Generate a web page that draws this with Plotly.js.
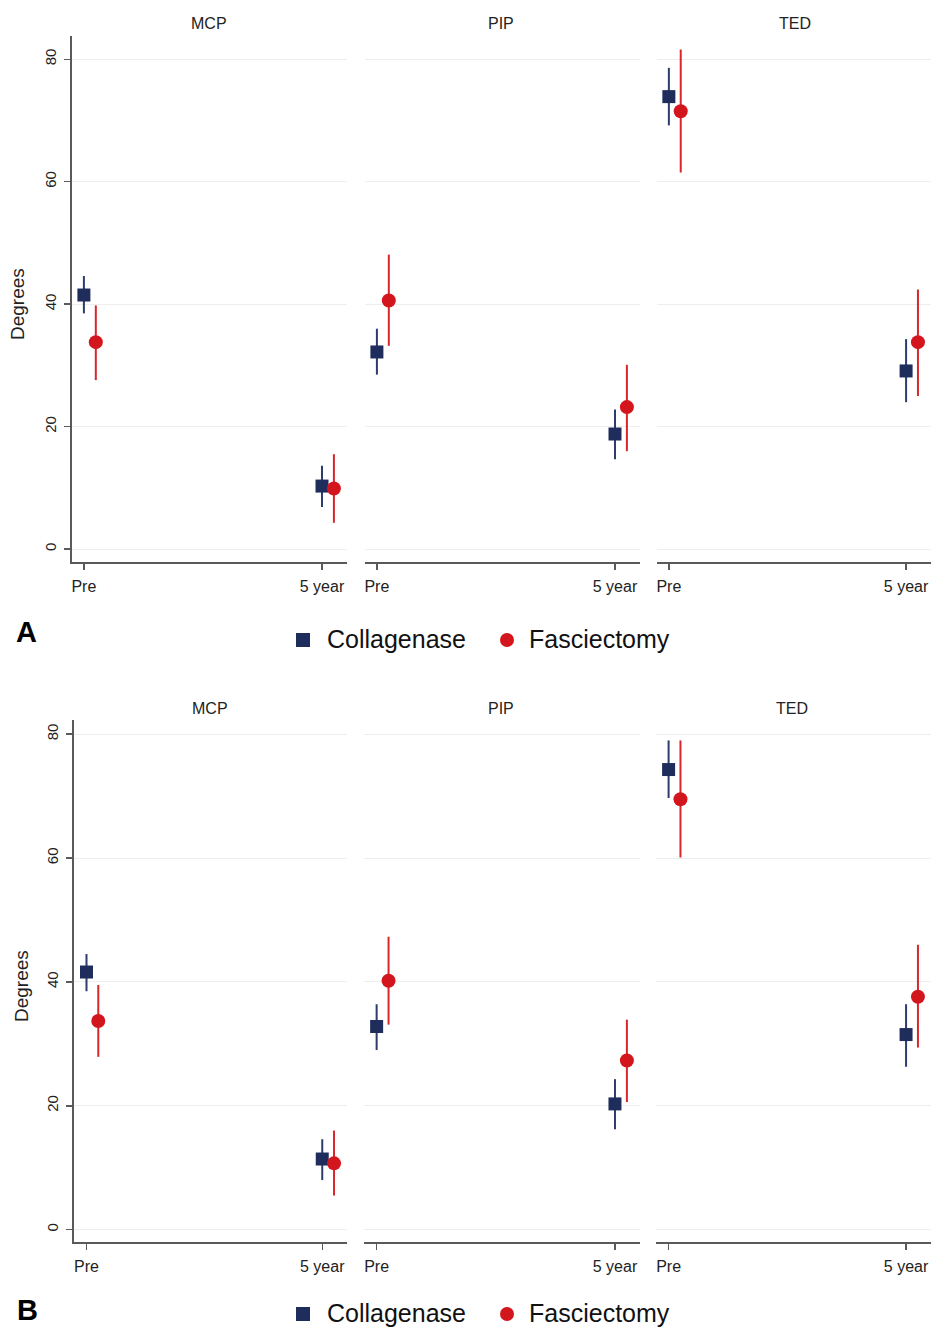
<!DOCTYPE html>
<html>
<head>
<meta charset="utf-8">
<script src="https://cdn.plot.ly/plotly-3.0.1.min.js"></script>
<style>html,body{margin:0;padding:0;background:#fff;}#chart{width:931px;height:1330px;}</style>
</head>
<body>
<div id="chart"></div>
<script>
// ---- Data ----
const panels = ['MCP', 'PIP', 'TED'];
const timeLabels = ['Pre', '5 year'];
const groupNames = ['Collagenase', 'Fasciectomy'];
const yTicks = [0, 20, 40, 60, 80];

// Figure A: [panel][time]
const collA_mean = [[41.5, 10.3], [32.2, 18.8], [73.9, 29.1]];
const collA_lo   = [[38.5, 6.9],  [28.5, 14.7], [69.2, 24.0]];
const collA_hi   = [[44.6, 13.6], [36.0, 22.8], [78.6, 34.3]];
const fascA_mean = [[33.8, 9.9],  [40.6, 23.2], [71.5, 33.8]];
const fascA_lo   = [[27.6, 4.3],  [33.2, 16.0], [61.5, 25.0]];
const fascA_hi   = [[39.8, 15.5], [48.1, 30.1], [81.6, 42.4]];

// Figure B: [panel][time]
const collB_mean = [[41.6, 11.4], [32.8, 20.3], [74.3, 31.5]];
const collB_lo   = [[38.5, 8.0],  [29.0, 16.2], [69.7, 26.3]];
const collB_hi   = [[44.5, 14.6], [36.4, 24.3], [79.0, 36.4]];
const fascB_mean = [[33.7, 10.7], [40.2, 27.3], [69.5, 37.6]];
const fascB_lo   = [[27.9, 5.5],  [33.1, 20.6], [60.1, 29.4]];
const fascB_hi   = [[39.5, 16.0], [47.3, 33.9], [79.0, 46.0]];

// ---- Styling / layout ----
const W = 931, H = 1330;
const FONT = 'Liberation Sans, Arial, sans-serif';
const NAVY = '#1f2d5c', NAVY_ERR = '#2c3c6c';
const RED = '#d3161d', RED_ERR = '#d8262b';
const px = v => v / W;
const py = v => 1 - v / H;

const figures = [
  {
    label: 'A', axOffset: 0,
    coll: [collA_mean, collA_lo, collA_hi], fasc: [fascA_mean, fascA_lo, fascA_hi],
    yTop: 36, yBot: 562, yRange: [-2.1, 83.8],
    xPix: [[72, 347], [365, 640], [657, 931]],
    xRange: [-0.05, 1.105],
    titleY: 23, titleX: [209, 501, 795], degY: 304, degX: 18,
    labelPos: [26, 632], legendY: 639
  },
  {
    label: 'B', axOffset: 3,
    coll: [collB_mean, collB_lo, collB_hi], fasc: [fascB_mean, fascB_lo, fascB_hi],
    yTop: 720, yBot: 1242, yRange: [-2.0, 82.3],
    xPix: [[74, 347], [364, 640], [656, 931]],
    xRange: [-0.053, 1.105],
    titleY: 708, titleX: [210, 501, 792], degY: 986, degX: 21,
    labelPos: [27, 1310], legendY: 1313
  }
];

const traces = [];
const layout = {
  width: W, height: H,
  margin: {l: 0, r: 0, t: 0, b: 0},
  paper_bgcolor: '#ffffff', plot_bgcolor: '#ffffff',
  font: {family: FONT, color: '#222'},
  annotations: [],
  shapes: [],
  showlegend: false
};

const FASC_OFFSET = 0.05;
const groupStyles = [
  {color: NAVY, ecolor: NAVY_ERR, symbol: 'square', size: 13, offset: 0},
  {color: RED, ecolor: RED_ERR, symbol: 'circle', size: 14, offset: FASC_OFFSET}
];
// legend key positions (pixels)
const legendKeyX = [303, 507];
const legendTextX = [325, 527];

figures.forEach(f => {
  panels.forEach((pName, p) => {
    const n = f.axOffset + p + 1;
    const xa = 'xaxis' + (n === 1 ? '' : n);
    const ya = 'yaxis' + (n === 1 ? '' : n);
    const xr = 'x' + (n === 1 ? '' : n);
    const yr = 'y' + (n === 1 ? '' : n);

    [f.coll, f.fasc].forEach((g, gi) => {
      const [mean, lo, hi] = g;
      const st = groupStyles[gi];
      traces.push({
        type: 'scatter', mode: 'markers',
        name: groupNames[gi],
        x: timeLabels.map((_, i) => i + st.offset),
        y: mean[p],
        xaxis: xr, yaxis: yr,
        marker: {symbol: st.symbol, size: st.size, color: st.color},
        error_y: {
          type: 'data', symmetric: false,
          array: mean[p].map((m, i) => hi[p][i] - m),
          arrayminus: mean[p].map((m, i) => m - lo[p][i]),
          width: 0, thickness: 2, color: st.ecolor
        },
        cliponaxis: false,
        hoverinfo: 'skip'
      });
    });

    layout[xa] = {
      domain: [px(f.xPix[p][0]), px(f.xPix[p][1])],
      range: f.xRange,
      anchor: yr,
      tickvals: [0, 1], ticktext: timeLabels,
      showgrid: false, zeroline: false,
      showline: true, linecolor: '#5a5a5a', linewidth: 2,
      ticks: 'outside', ticklen: 6, tickwidth: 1.5, tickcolor: '#5a5a5a',
      tickfont: {family: FONT, size: 16, color: '#222'},
      ticklabelstandoff: 3,
      fixedrange: true
    };
    layout[ya] = {
      domain: [py(f.yBot), py(f.yTop)],
      range: f.yRange,
      anchor: xr,
      tickvals: yTicks,
      showgrid: true, gridcolor: '#eeeeee', gridwidth: 1,
      zeroline: false,
      showline: p === 0, linecolor: '#5a5a5a', linewidth: 2,
      ticks: p === 0 ? 'outside' : '', ticklen: 6, tickwidth: 1.5, tickcolor: '#5a5a5a',
      showticklabels: p === 0,
      tickangle: -90,
      tickfont: {family: FONT, size: 15, color: '#222'},
      ticklabelstandoff: 2,
      fixedrange: true
    };

    layout.annotations.push({
      text: pName, xref: 'paper', yref: 'paper',
      x: px(f.titleX[p]), y: py(f.titleY), xanchor: 'center', yanchor: 'middle',
      showarrow: false, font: {family: FONT, size: 16, color: '#222'}
    });
  });

  layout.annotations.push({
    text: 'Degrees', xref: 'paper', yref: 'paper',
    x: px(f.degX), y: py(f.degY), xanchor: 'center', yanchor: 'middle',
    textangle: -90, showarrow: false, font: {family: FONT, size: 19, color: '#222'}
  });
  layout.annotations.push({
    text: '<b>' + f.label + '</b>', xref: 'paper', yref: 'paper',
    x: px(f.labelPos[0]), y: py(f.labelPos[1]), xanchor: 'center', yanchor: 'middle',
    showarrow: false, font: {family: FONT, size: 29, color: '#000'}
  });

  // Manual legend (keys as shapes, labels as annotations)
  groupNames.forEach((gName, gi) => {
    const st = groupStyles[gi];
    const cx = legendKeyX[gi], cy = f.legendY + 1, r = 7;
    layout.shapes.push({
      type: st.symbol === 'square' ? 'rect' : 'circle',
      xref: 'paper', yref: 'paper',
      x0: px(cx - r), x1: px(cx + r), y0: py(cy + r), y1: py(cy - r),
      fillcolor: st.color, line: {width: 0}
    });
    layout.annotations.push({
      text: gName, xref: 'paper', yref: 'paper',
      x: px(legendTextX[gi]), y: py(f.legendY), xanchor: 'left', yanchor: 'middle',
      showarrow: false, font: {family: FONT, size: 25, color: '#111'}
    });
  });
});

Plotly.newPlot('chart', traces, layout, {displayModeBar: false, staticPlot: true});
</script>
</body>
</html>
